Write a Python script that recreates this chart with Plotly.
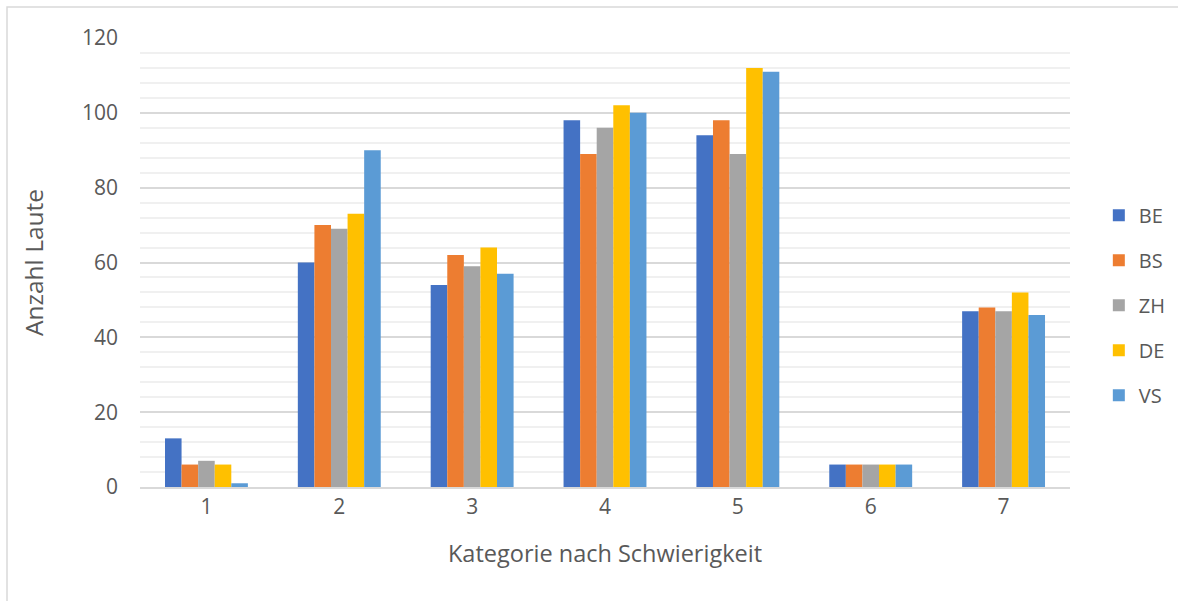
import plotly.graph_objects as go

# Number of sounds per difficulty category, by region
categories = ["1", "2", "3", "4", "5", "6", "7"]
series_names = ["BE", "BS", "ZH", "DE", "VS"]
be = [13, 60, 54, 98, 94, 6, 47]
bs = [6, 70, 62, 89, 98, 6, 48]
zh = [7, 69, 59, 96, 89, 6, 47]
de = [6, 73, 64, 102, 112, 6, 52]
vs = [1, 90, 57, 100, 111, 6, 46]
y_ticks = [0, 20, 40, 60, 80, 100, 120]

values = [be, bs, zh, de, vs]
colors = ["#4472C4", "#ED7D31", "#A5A5A5", "#FFC000", "#5B9BD5"]

FONT = "Open Sans"
TEXT = "#595959"

fig = go.Figure()
for name, vals, col in zip(series_names, values, colors):
    fig.add_trace(go.Bar(
        x=categories, y=vals, name=name, legendgroup=name,
        marker=dict(color=col, line=dict(width=0)),
    ))

fig.update_layout(
    width=1178, height=601,
    margin=dict(l=140, r=108, t=38, b=114, autoexpand=False),
    paper_bgcolor="white", plot_bgcolor="white",
    barmode="group", bargap=0.376, bargroupgap=0,
    font=dict(family=FONT, color=TEXT, size=21),
    showlegend=True,
    legend=dict(
        x=1.031, xanchor="left", y=0.405, yanchor="middle",
        font=dict(family=FONT, size=20, color=TEXT),
        traceorder="grouped", tracegroupgap=16,
        itemwidth=30,
    ),
    xaxis=dict(
        type="category", showgrid=False, zeroline=False,
        showline=True, linecolor="#D9D9D9", linewidth=1.5,
        ticks="", tickfont=dict(size=21, color=TEXT),
        title=dict(text="Kategorie nach Schwierigkeit",
                   font=dict(size=23.5, color=TEXT), standoff=27),
    ),
    yaxis=dict(
        range=[0, 120], tickvals=y_ticks,
        showgrid=True, gridcolor="#D9D9D9", gridwidth=1.5,
        zeroline=False, showline=False,
        minor=dict(dtick=4, showgrid=True, gridcolor="#F0F0F0", gridwidth=1.5),
        tickfont=dict(size=21, color=TEXT), ticklabelstandoff=21,
        title=dict(text="Anzahl Laute", font=dict(size=24.5, color=TEXT), standoff=31),
    ),
)

# Chart frame (top and left edges visible)
fig.add_shape(type="rect", xref="paper", yref="paper",
              x0=-0.143, x1=1.3, y0=-0.5, y1=1.069,
              line=dict(color="#D9D9D9", width=1.5), layer="below")

fig.write_html("out.html")
